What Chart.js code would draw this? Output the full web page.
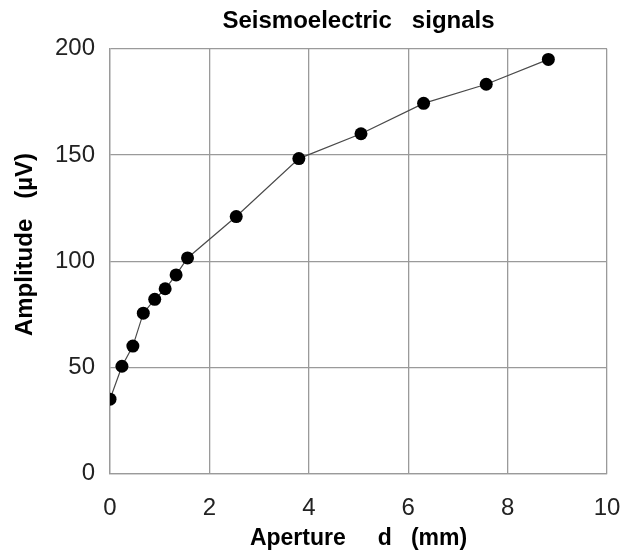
<!DOCTYPE html>
<html>
<head>
<meta charset="utf-8">
<script src="https://cdn.jsdelivr.net/npm/chart.js@4"></script>
<style>
  html, body { margin: 0; padding: 0; background: #fff; }
  #wrap { width: 624px; height: 556px; position: relative; }
</style>
</head>
<body>
<div id="wrap"><canvas id="c" width="624" height="556"></canvas></div>
<script>
const apertureMm = [0, 0.24, 0.46, 0.67, 0.9, 1.11, 1.33, 1.56, 2.54, 3.8, 5.05, 6.31, 7.57, 8.82];
const amplitudeUv = [35, 50.5, 60, 75.5, 82, 87, 93.5, 101.5, 121, 148.3, 160, 174.3, 183.3, 195];
const chartTitle = 'Seismoelectric   signals';
const xTitle = 'Aperture     d   (mm)';
const yTitle = '     Amplitude   (\u00B5V)';

const points = apertureMm.map((x, i) => ({ x: x, y: amplitudeUv[i] }));
const FONT = '"Liberation Sans", Arial, Helvetica, sans-serif';
const GRID = '#9a9a9a';

new Chart(document.getElementById('c'), {
  type: 'scatter',
  data: {
    datasets: [{
      data: points,
      showLine: true,
      borderColor: '#4a4a4a',
      borderWidth: 1.2,
      backgroundColor: '#000',
      pointBackgroundColor: '#000',
      pointBorderColor: '#000',
      pointRadius: 6.5,
      pointBorderWidth: 0,
      tension: 0
    }]
  },
  options: {
    responsive: false,
    animation: false,
    layout: { padding: { left: 0, right: 17, top: 0, bottom: 0 } },
    plugins: {
      legend: { display: false },
      tooltip: { enabled: false },
      title: {
        display: true,
        text: chartTitle,
        fullSize: false,
        color: '#000',
        font: { family: FONT, size: 24, weight: 'bold' },
        padding: { top: 7, bottom: 13 }
      }
    },
    scales: {
      x: {
        type: 'linear',
        min: 0, max: 10,
        ticks: { stepSize: 2, color: '#222', font: { family: FONT, size: 24 }, padding: 20, maxRotation: 0 },
        grid: { color: GRID, lineWidth: 1.3, drawTicks: false },
        border: { color: GRID, width: 1.3 },
        title: { display: true, text: xTitle, color: '#000', font: { family: FONT, size: 23, weight: 'bold' }, padding: { top: 1, bottom: 4 } },
        afterFit: (s) => { s.height = 82.5; s.paddingLeft = 0; s.paddingRight = 0; }
      },
      y: {
        type: 'linear',
        min: 0, max: 200,
        ticks: { stepSize: 50, color: '#222', font: { family: FONT, size: 24 }, padding: 15 },
        grid: { color: GRID, lineWidth: 1.3, drawTicks: false },
        border: { color: GRID, width: 1.3 },
        title: { display: true, text: yTitle, color: '#000', font: { family: FONT, size: 24, weight: 'bold' }, padding: { top: 11, bottom: 0 } },
        afterFit: (s) => { s.width = 110; }
      }
    }
  }
});
</script>
</body>
</html>
